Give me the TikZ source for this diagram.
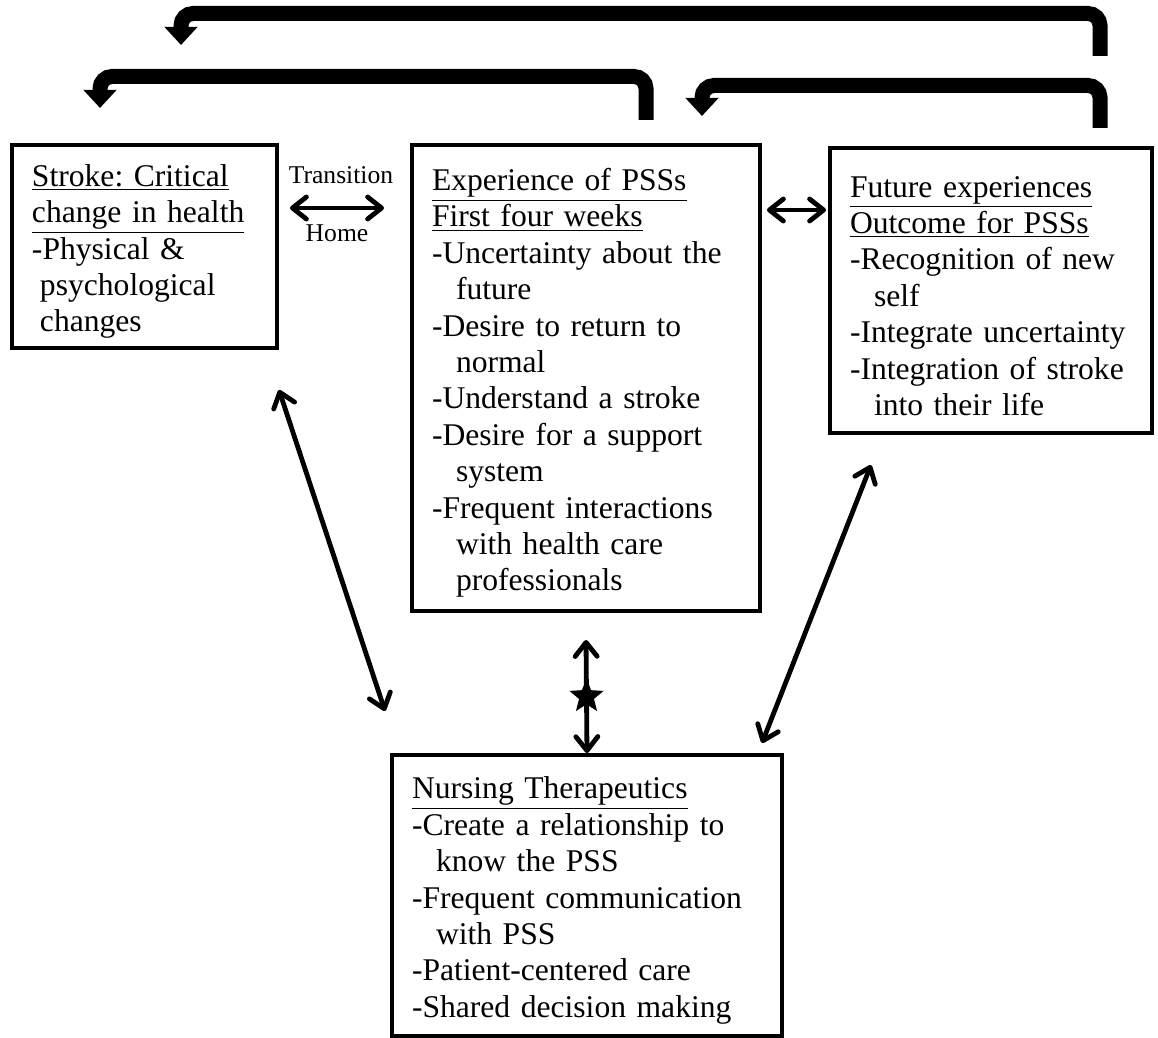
\documentclass[tikz,border=0pt]{standalone}
\usepackage{fontspec}
\setmainfont{Liberation Serif}
\usetikzlibrary{arrows.meta,calc,shapes.geometric}
\frenchspacing
\begin{document}
\begin{tikzpicture}[x=0.5pt,y=-0.5pt]
\useasboundingbox (0,0) rectangle (1158,1038);

% definitions
\tikzstyle{textbox} = [rectangle, draw=black, line width=2pt, inner xsep=10pt, inner ysep=0pt, align=left, font=\fontsize{15.8}{18.2}\selectfont, execute at begin node={\rule{0pt}{16pt}}]

\tikzstyle{smalltext} = [font=\fontsize{12.8}{15}\selectfont, inner sep=0pt]

\tikzstyle{dblarrow} = [{Straight Barb[round,length=7pt,width=11pt]}-{Straight Barb[round,length=7pt,width=11pt]}, line width=2.4pt]

\tikzstyle{bigarrow} = [-{Triangle[length=9pt,width=16pt]}, line width=7.5pt, rounded corners=6pt]

\tikzstyle{starmark} = [star, star points=5, star point ratio=2.3, fill=black, minimum size=18pt, inner sep=0pt]

% the graph
\node (stroke) [textbox, text width=112.5pt, minimum height=101.5pt] at (144.5,246.5) {\underline{Stroke: Critical}\\ \underline{change in health}\\ -Physical \&\\ \hspace*{4pt}psychological\\ \hspace*{4pt}changes};

\node (exper) [textbox, text width=154pt, minimum height=233pt] at (586,378) {\underline{Experience of PSSs}\\ \underline{First four weeks}\\ -Uncertainty about the\\ \hspace*{12pt}future\\ -Desire to return to\\ \hspace*{12pt}normal\\ -Understand a stroke\\ -Desire for a support\\ \hspace*{12pt}system\\ -Frequent interactions\\ \hspace*{12pt}with health care\\ \hspace*{12pt}professionals};

\node (future) [textbox, text width=141pt, minimum height=142.5pt] at (991,290.5) {\underline{Future experiences}\\ \underline{Outcome for PSSs}\\ -Recognition of new\\ \hspace*{12pt}self\\ -Integrate uncertainty\\ -Integration of stroke\\ \hspace*{12pt}into their life};

\node (nurse) [textbox, text width=175pt, minimum height=140.5pt] at (587,895.5) {\underline{Nursing Therapeutics}\\ -Create a relationship to\\ \hspace*{12pt}know the PSS\\ -Frequent communication\\ \hspace*{12pt}with PSS\\ -Patient-centered care\\ -Shared decision making};

\draw [dblarrow] ($(stroke.north east)+(11,65)$) -- ($(exper.north west)+(-26,65)$) node[smalltext, midway, yshift=16.5pt, xshift=2pt] {Transition} node[smalltext, midway, yshift=-12.5pt] {Home};

\draw [dblarrow] ($(exper.north east)+(5,67)$) -- ($(future.north west)+(-2,64)$);

\draw [dblarrow] ($(exper.south)+(0,27)$) -- (nurse.north) node[starmark, midway] {};

\draw [dblarrow] ($(stroke.south east)+(0,40)$) -- ($(nurse.north west)+(-5,-42)$);

\draw [dblarrow] ($(future.south west)+(43,30)$) -- ($(nurse.north east)+(-22,-10)$);

\draw [bigarrow] ($(future.north)+(109,-90)$) |- ($(stroke.north)+(36.5,-129.5)$) -- ($(stroke.north)+(36.5,-98)$);

\draw [bigarrow] ($(exper.north)+(60,-23)$) |- ($(stroke.north)+(-44.5,-66.5)$) -- ($(stroke.north)+(-44.5,-35)$);

\draw [bigarrow] ($(future.north)+(109,-18)$) |- ($(exper.north)+(116,-57.5)$) -- ($(exper.north)+(116,-27)$);

\end{tikzpicture}
\end{document}
